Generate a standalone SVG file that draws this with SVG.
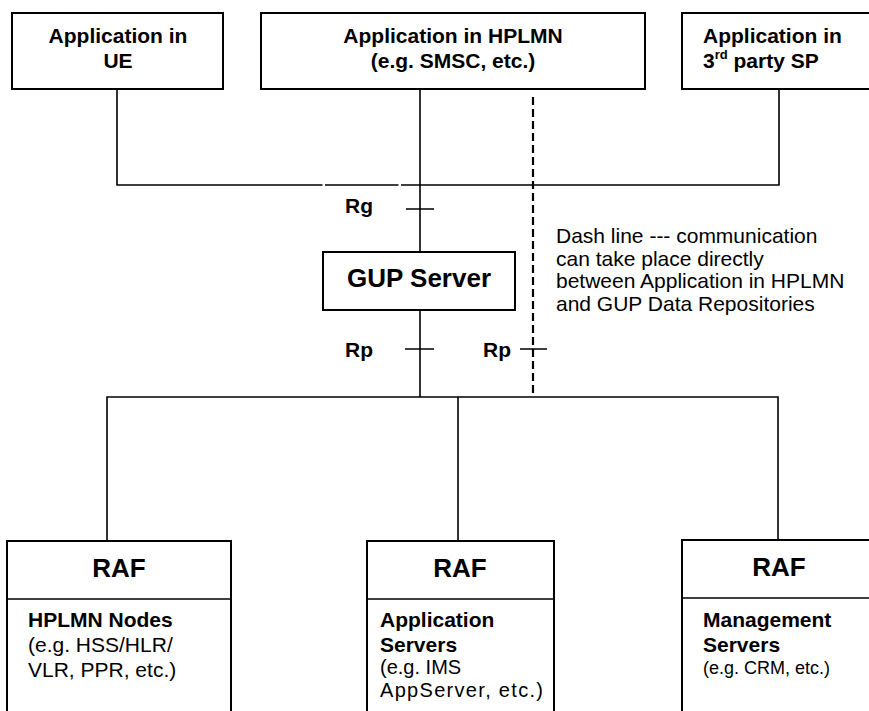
<svg xmlns="http://www.w3.org/2000/svg" width="869" height="711" viewBox="0 0 869 711">
<style>
.box{fill:#fff;stroke:#000;stroke-width:2}
.ln{fill:none;stroke:#000;stroke-width:1.6}
.dash{fill:none;stroke:#000;stroke-width:2.2;stroke-dasharray:8 4}
text{font-family:"Liberation Sans",Arial,sans-serif;fill:#000}
.b{font-weight:bold;font-size:21px}
.r{font-size:21px}
.big{font-weight:bold;font-size:26px}
.s{font-size:18px}
.m{font-size:20px}
</style>
<rect width="869" height="711" fill="#fff"/>
<g id="connectors">
<path class="ln" d="M117 89V185H322.5M325 185H398.5M401 185H779V89"/>
<path class="ln" d="M420 89V252"/>
<path class="ln" d="M420 310V397"/>
<path class="ln" d="M107 541V397H778V540M458 397V541"/>
<path class="dash" d="M533 97V397"/>
<path class="ln" d="M406 209H434M405 349H434M520 349H547"/>
</g>
<g id="app-ue">
<rect class="box" x="12" y="13" width="211" height="76"/>
<text class="b" x="118" y="43" text-anchor="middle">Application in</text>
<text class="b" x="118" y="68" text-anchor="middle">UE</text>
</g>
<g id="app-hplmn">
<rect class="box" x="261" y="13" width="384" height="76"/>
<text class="b" x="453" y="43" text-anchor="middle">Application in HPLMN</text>
<text class="b" x="453" y="68" text-anchor="middle">(e.g. SMSC, etc.)</text>
</g>
<g id="app-3rd">
<rect class="box" x="682" y="13" width="200" height="76"/>
<text class="b" x="703" y="43">Application in</text>
<text class="b" x="703" y="68">3<tspan font-size="13" dy="-9">rd</tspan><tspan dy="9"> party SP</tspan></text>
</g>
<g id="labels">
<text class="b" x="345" y="213">Rg</text>
<text class="b" x="345" y="357">Rp</text>
<text class="b" x="483" y="357">Rp</text>
<text class="r" x="556" y="243">Dash line --- communication</text>
<text class="r" x="556" y="265.5">can take place directly</text>
<text class="r" x="556" y="288">between Application in HPLMN</text>
<text class="r" x="556" y="310.5">and GUP Data Repositories</text>
</g>
<g id="gup-server">
<rect class="box" x="323" y="252" width="192" height="58"/>
<text class="big" x="419" y="287" text-anchor="middle">GUP Server</text>
</g>
<g id="raf-hplmn">
<rect class="box" x="7" y="541" width="224" height="180"/>
<path class="ln" d="M7 599H231" stroke-width="2"/>
<text class="big" x="119" y="577" text-anchor="middle">RAF</text>
<text class="b" x="28" y="627">HPLMN Nodes</text>
<text class="r" x="28" y="652">(e.g. HSS/HLR/</text>
<text class="r" x="28" y="677">VLR, PPR, etc.)</text>
</g>
<g id="raf-app">
<rect class="box" x="367" y="541" width="187" height="180"/>
<path class="ln" d="M367 599H554" stroke-width="2"/>
<text class="big" x="460" y="577" text-anchor="middle">RAF</text>
<text class="b" x="380" y="627">Application</text>
<text class="b" x="380" y="652">Servers</text>
<text class="m" x="380" y="674">(e.g. IMS</text>
<text class="m" x="380" y="697" textLength="163" lengthAdjust="spacing">AppServer, etc.)</text>
</g>
<g id="raf-mgmt">
<rect class="box" x="682" y="540" width="200" height="180"/>
<path class="ln" d="M682 598H882" stroke-width="2"/>
<text class="big" x="779" y="576" text-anchor="middle">RAF</text>
<text class="b" x="703" y="627">Management</text>
<text class="b" x="703" y="652">Servers</text>
<text class="s" x="703" y="674">(e.g. CRM, etc.)</text>
</g>
</svg>
